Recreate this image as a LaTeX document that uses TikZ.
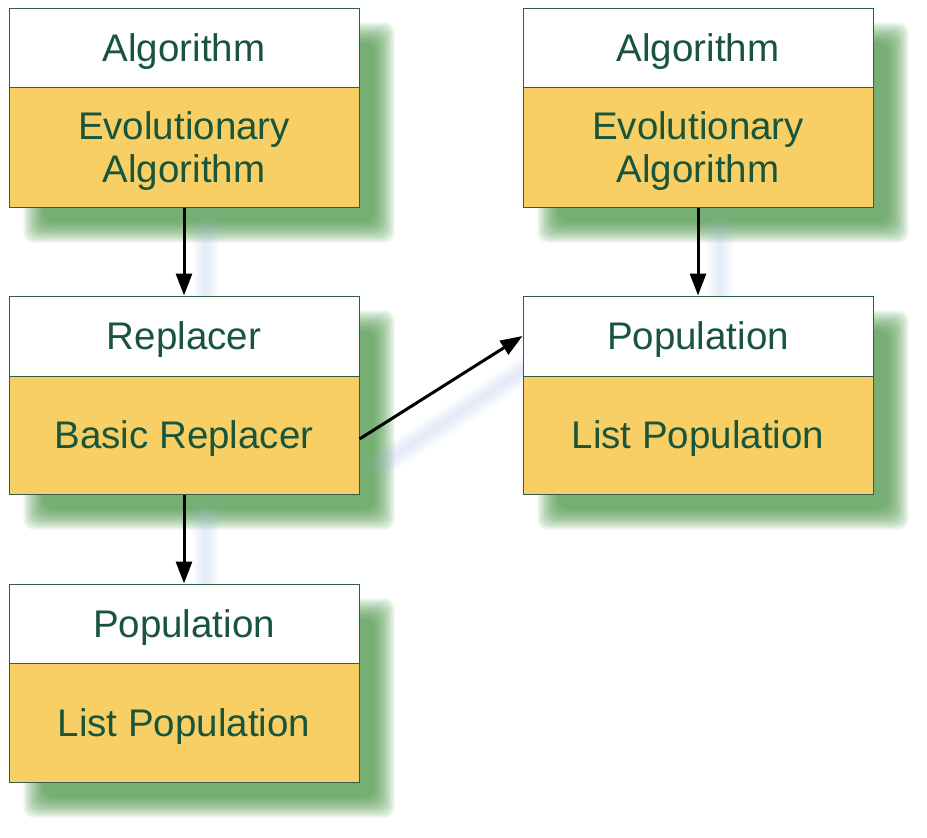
\documentclass[tikz,border=0pt]{standalone}
\usepackage{fontspec}
\setmainfont{Liberation Sans}
\usetikzlibrary{arrows.meta,calc,backgrounds}
\definecolor{txtg}{HTML}{18553A}
\definecolor{lineg}{HTML}{2E5E45}
\definecolor{yfill}{HTML}{F7CF65}
\definecolor{shadowg}{RGB}{59,139,54}
\definecolor{shadowb}{RGB}{160,185,230}
\newcommand\gshadow[2]{%
  \foreach \r in {-10,-8,...,10}{%
    \fill[shadowg,opacity=0.1,rounded corners=10pt]
      ($(#1.north west)+(25-\r,25-\r)$) rectangle ($(#2.south east)+(25+\r,25+\r)$);}}
\newcommand\bshadow[4]{%
  \foreach \w in {6,10,...,26}{%
    \draw[shadowb,opacity=0.05,line width=\w pt,line cap=round]
      ($(#1)+#3$) -- ($(#2)+#4$);}}
\begin{document}
\begin{tikzpicture}[x=1pt,y=-1pt,
  hdr/.style={draw=lineg,line width=1pt,fill=white,minimum width=350pt,
    minimum height=79pt,inner sep=0pt,text=txtg,text depth=0pt,
    font=\fontsize{38.5}{43}\selectfont,align=center},
  bdy/.style={hdr,fill=yfill,minimum height=119pt},
  arr/.style={line width=3pt,-{Triangle[length=22pt,width=16pt]}}]
\useasboundingbox (0,0) rectangle (927,838);
% nodes
\node[hdr] (a1h) at (184,47.5) {Algorithm};
\node[bdy,minimum height=120pt] (a1b) at (184,147) {Evolutionary\\Algorithm};
\node[hdr,minimum height=80pt] (rh) at (184,336) {Replacer};
\node[bdy,minimum height=118pt] (rb) at (184,435) {Basic Replacer};
\node[hdr] (p1h) at (184,623.5) {Population};
\node[bdy] (p1b) at (184,722.5) {List Population};
\node[hdr] (a2h) at (698,47.5) {Algorithm};
\node[bdy,minimum height=120pt] (a2b) at (698,147) {Evolutionary\\Algorithm};
\node[hdr,minimum height=80pt] (p2h) at (698,336) {Population};
\node[bdy,minimum height=118pt] (p2b) at (698,435) {List Population};
% shadows on background
\begin{scope}[on background layer]
\gshadow{a1h}{a1b}
\gshadow{rh}{rb}
\gshadow{p1h}{p1b}
\gshadow{a2h}{a2b}
\gshadow{p2h}{p2b}
\bshadow{a1b.south}{rh.north}{(22,22)}{(22,10)}
\bshadow{rb.south}{p1h.north}{(22,22)}{(22,10)}
\bshadow{a2b.south}{p2h.north}{(22,22)}{(22,10)}
\bshadow{rb.east}{p2h.west}{(24,28)}{(20,22)}
\end{scope}
% arrows
\draw[arr] (a1b.south) -- (rh.north);
\draw[arr] (rb.south) -- (p1h.north);
\draw[arr] (a2b.south) -- (p2h.north);
\draw[arr] ($(rb.east)+(0,4)$) -- (p2h.west);
\end{tikzpicture}
\end{document}
